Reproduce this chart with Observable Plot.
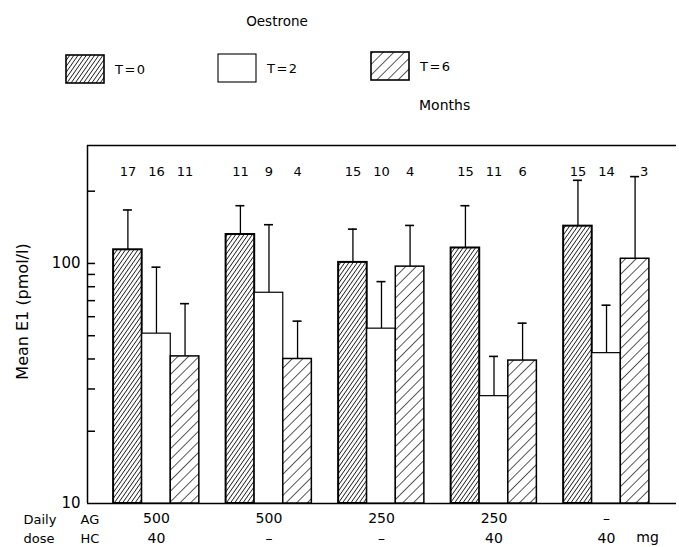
<!DOCTYPE html>
<html>
<head>
<meta charset="utf-8">
<script src="https://cdn.jsdelivr.net/npm/d3@7"></script>
<script src="https://cdn.jsdelivr.net/npm/@observablehq/plot@0.6"></script>
<style>
  body { margin: 0; background: #fff; font-family: "DejaVu Sans", sans-serif; }
  #figure { width: 679px; height: 547px; position: relative; }
  #figure svg { display: block; }
  #patterns { position: absolute; width: 0; height: 0; }
</style>
</head>
<body>
<svg id="patterns" aria-hidden="true">
  <defs>
    <pattern id="hatch-dense" patternUnits="userSpaceOnUse" width="3.4" height="3.4" patternTransform="rotate(35)">
      <rect width="3.4" height="3.4" fill="#fff"></rect>
      <line x1="0" y1="0" x2="0" y2="3.4" stroke="#000" stroke-width="1.5"></line>
    </pattern>
    <pattern id="hatch-wide" patternUnits="userSpaceOnUse" width="7.5" height="7.5" patternTransform="rotate(45)">
      <rect width="7.5" height="7.5" fill="#fff"></rect>
      <line x1="0" y1="0" x2="0" y2="7.5" stroke="#000" stroke-width="1.3"></line>
    </pattern>
  </defs>
</svg>
<div id="figure"></div>
<script>
// Oestrone (E1), mean and upper error bar, by treatment arm and month of treatment
const title = "Oestrone";
const months = ["T=0", "T=2", "T=6"];
const agDose = ["500", "500", "250", "250", "–"];
const hcDose = ["40", "–", "–", "40", "40"];

const meanT0 = [114, 132, 101, 116, 143];
const meanT2 = [51, 75.5, 53.5, 28, 42.3];
const meanT6 = [41, 40, 97, 39.4, 104.6];

const upperT0 = [167, 174, 139, 174, 222];
const upperT2 = [96.5, 145, 84, 41, 67];
const upperT6 = [68, 57.5, 144, 56.4, 230];

const nT0 = [17, 11, 15, 15, 15];
const nT2 = [16, 9, 10, 11, 14];
const nT6 = [11, 4, 4, 6, 3];

const yTickLabels = [10, 100];
const yTickMarks = [20, 30, 40, 50, 60, 70, 80, 90, 100, 200];

// Per-series appearance
const fills = ["url(#hatch-dense)", "#fff", "url(#hatch-wide)"];
const outlines = [2, 1.2, 1.5];

// Layout
const width = 679, legendHeight = 120, plotHeight = 427;
const marginLeft = 87, marginRight = 3, marginTop = 25, marginBottom = 44;
const xDomain = [-0.613, 4.622];
const yDomain = [10, 310];
const barStep = 0.254, barHalf = 0.127, capHalf = 0.04;
const tickLength = 8;

const means = [meanT0, meanT2, meanT6];
const uppers = [upperT0, upperT2, upperT6];
const counts = [nT0, nT2, nT6];

const rows = [];
months.forEach((m, j) => {
  agDose.forEach((ag, i) => {
    rows.push({
      month: m, series: j, group: i,
      pos: i + (j - 1) * barStep,
      mean: means[j][i], upper: uppers[j][i], n: counts[j][i]
    });
  });
});

const figure = d3.select("#figure");

// Legend block above the chart
const legend = figure.append("svg")
  .attr("width", width).attr("height", legendHeight)
  .style("font-family", "DejaVu Sans, sans-serif");

legend.append("text")
  .attr("x", 277).attr("y", 21)
  .attr("text-anchor", "middle").attr("dominant-baseline", "central")
  .attr("font-size", 13.5)
  .text(title);

const swatchX = [66, 218, 371];
const swatchY = [55, 54, 52];
months.forEach((m, j) => {
  legend.append("rect")
    .attr("x", swatchX[j]).attr("y", swatchY[j])
    .attr("width", 38).attr("height", 28)
    .attr("fill", fills[j]).attr("stroke", "#000")
    .attr("stroke-width", j === 1 ? 1.1 : 1.6);
  legend.append("text")
    .attr("x", swatchX[j] + 49).attr("y", swatchY[j] + 14)
    .attr("dominant-baseline", "central")
    .attr("font-size", 13)
    .attr("letter-spacing", "1.5px")
    .text(m);
});

legend.append("text")
  .attr("x", 419).attr("y", 105)
  .attr("dominant-baseline", "central")
  .attr("font-size", 14)
  .text("Months");

const barMarks = months.map((m, j) =>
  Plot.rectY(rows.filter(d => d.series === j), {
    x1: d => d.pos - barHalf,
    x2: d => d.pos + barHalf,
    y1: () => yDomain[0],
    y2: "mean",
    fill: fills[j],
    stroke: "#000",
    strokeWidth: outlines[j]
  })
);

const chart = Plot.plot({
  width,
  height: plotHeight,
  marginLeft, marginRight, marginTop, marginBottom,
  style: { fontFamily: "DejaVu Sans, sans-serif", fontSize: "13px", color: "#000", background: "#fff" },
  x: { domain: xDomain, axis: null },
  y: { type: "log", domain: yDomain, axis: null },
  marks: [
    // frame: top edge, baseline and left axis
    Plot.ruleY([yDomain[1]], { stroke: "#000", strokeWidth: 1.3 }),
    Plot.ruleY([yDomain[0]], { stroke: "#000", strokeWidth: 1.5 }),
    Plot.ruleX([xDomain[0]], { stroke: "#000", strokeWidth: 1.5 }),
    // tick marks pointing into the plot, shifted right by their own length
    Plot.axisY({ ticks: yTickMarks, tickSize: tickLength, dx: tickLength, tickFormat: () => "", strokeWidth: 1.5, label: null }),
    Plot.axisY({ ticks: yTickLabels, tickSize: 0, tickPadding: 7, tickFormat: d => String(d), fontSize: 15, label: null }),
    // error bars
    Plot.ruleX(rows, { x: "pos", y1: "mean", y2: "upper", stroke: "#000", strokeWidth: 1.3 }),
    Plot.ruleY(rows, { y: "upper", x1: d => d.pos - capHalf, x2: d => d.pos + capHalf, stroke: "#000", strokeWidth: 1.6 }),
    ...barMarks,
    // number of patients per bar (nudged aside where a long error bar reaches the label row)
    Plot.text(rows, {
      x: d => d.pos + (d.upper > 225 ? 0.08 : 0),
      text: d => String(d.n),
      frameAnchor: "top", lineAnchor: "middle", dy: 26,
      fontSize: 13, letterSpacing: "1px"
    }),
    // treatment doses under each group
    Plot.text(agDose, { x: (d, i) => i, frameAnchor: "bottom", lineAnchor: "middle", dy: 15, fontSize: 14, letterSpacing: "1px" }),
    Plot.text(hcDose, { x: (d, i) => i, frameAnchor: "bottom", lineAnchor: "middle", dy: 35, fontSize: 14, letterSpacing: "1px" }),
    Plot.text(["mg"], { x: () => agDose.length - 1, frameAnchor: "bottom", lineAnchor: "middle", dy: 34, dx: 41, fontSize: 14, letterSpacing: "1px" }),
    Plot.text(["Daily"], { frameAnchor: "bottom-left", lineAnchor: "middle", textAnchor: "start", dx: -64, dy: 16, fontSize: 13 }),
    Plot.text(["AG"], { frameAnchor: "bottom-left", lineAnchor: "middle", textAnchor: "start", dx: -7, dy: 16, fontSize: 13 }),
    Plot.text(["dose"], { frameAnchor: "bottom-left", lineAnchor: "middle", textAnchor: "start", dx: -64, dy: 35, fontSize: 13 }),
    Plot.text(["HC"], { frameAnchor: "bottom-left", lineAnchor: "middle", textAnchor: "start", dx: -7, dy: 35, fontSize: 13 }),
    // y axis title
    Plot.text(["Mean E1 (pmol/l)"], { frameAnchor: "left", textAnchor: "middle", rotate: -90, dx: -65, dy: -13, fontSize: 16, letterSpacing: "1.5px" })
  ]
});

figure.node().appendChild(chart);
</script>
</body>
</html>
